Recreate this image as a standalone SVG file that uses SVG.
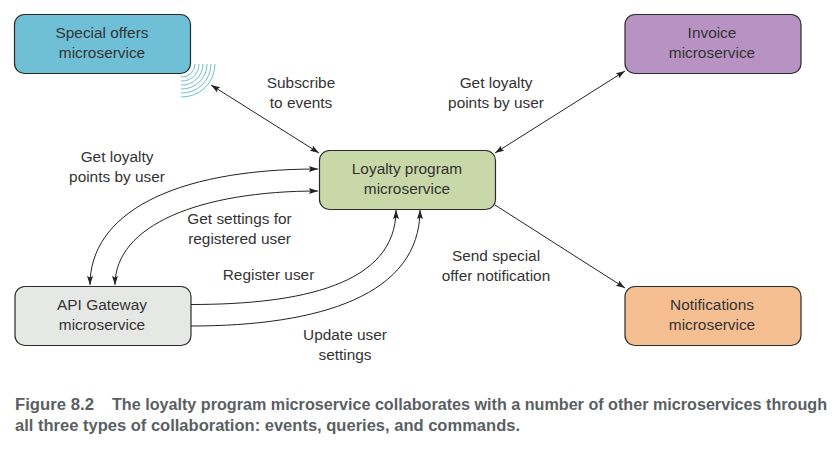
<svg xmlns="http://www.w3.org/2000/svg" width="840" height="450" viewBox="0 0 840 450">
<style>
text{font-family:"Liberation Sans",Arial,sans-serif;font-size:15.4px;fill:#333;text-anchor:middle}
.box{stroke:#2b2b2b;stroke-width:1.2}
.c{fill:none;stroke:#222;stroke-width:1}
.w{fill:none;stroke:#6cc0d5;stroke-width:1}
.cap{font-family:"Liberation Sans",sans-serif;font-weight:700;font-size:16px;fill:#5a5f63;text-anchor:start}
</style>
<defs>
<marker id="a" viewBox="0 0 9 6" refX="9" refY="3" markerWidth="9" markerHeight="6" markerUnits="userSpaceOnUse" orient="auto-start-reverse"><path d="M0 0L9 3L0 6L1.500 3Z" fill="#222"/></marker>
</defs>
<rect width="840" height="450" fill="#fff"/>
<g id="waves">
<path class="w" d="M181 77A13 13 0 0 0 195 64M181 81A17 17 0 0 0 199 64M181 85A21 21 0 0 0 203 64M181 89A25 25 0 0 0 207 64M181 93A29 29 0 0 0 211 64M181 97A33 33 0 0 0 215 64"/>
</g>
<g id="connectors">
<path class="c" marker-start="url(#a)" marker-end="url(#a)" d="M211 85L319 153"/>
<path class="c" marker-start="url(#a)" marker-end="url(#a)" d="M495 153L625 71"/>
<path class="c" marker-end="url(#a)" d="M495 205L625 288"/>
<path class="c" marker-start="url(#a)" marker-end="url(#a)" d="M90 285C90 215 170 169 318 169"/>
<path class="c" marker-start="url(#a)" marker-end="url(#a)" d="M115 285C115 225 200 191 318 191"/>
<path class="c" marker-end="url(#a)" d="M191 304.500C300 304.500 396 285 396 210"/>
<path class="c" marker-end="url(#a)" d="M191 326C320 326 420 295 420 210"/>
</g>
<g id="special"><rect class="box" x="14.500" y="14.500" width="176" height="59" rx="10" fill="#6fc0d6"/><text x="102" y="38">Special offers</text><text x="102" y="58">microservice</text></g>
<g id="invoice"><rect class="box" x="625" y="14.500" width="176" height="59" rx="10" fill="#b792c3"/><text x="712" y="38">Invoice</text><text x="712" y="58">microservice</text></g>
<g id="loyalty"><rect class="box" x="319.500" y="150.500" width="176" height="59" rx="10" fill="#c8d8a8"/><text x="407" y="174">Loyalty program</text><text x="407" y="194">microservice</text></g>
<g id="gateway"><rect class="box" x="15" y="286.500" width="176" height="59" rx="10" fill="#e6e8e6"/><text x="102" y="310">API Gateway</text><text x="102" y="330">microservice</text></g>
<g id="notifications"><rect class="box" x="625" y="286.500" width="176" height="59" rx="10" fill="#f6bf92"/><text x="712" y="310">Notifications</text><text x="712" y="330">microservice</text></g>
<g id="labels">
<text x="301" y="88">Subscribe</text><text x="301" y="108">to events</text>
<text x="496" y="88">Get loyalty</text><text x="496" y="108">points by user</text>
<text x="117" y="162">Get loyalty</text><text x="117" y="182">points by user</text>
<text x="239.500" y="224">Get settings for</text><text x="239.500" y="244">registered user</text>
<text x="268.500" y="280">Register user</text>
<text x="345" y="340">Update user</text><text x="345" y="360">settings</text>
<text x="496" y="261">Send special</text><text x="496" y="281">offer notification</text>
</g>
<g id="caption">
<text class="cap" x="15" y="410" textLength="79" lengthAdjust="spacingAndGlyphs">Figure 8.2</text>
<text class="cap" x="112" y="410" textLength="715" lengthAdjust="spacingAndGlyphs">The loyalty program microservice collaborates with a number of other microservices through</text>
<text class="cap" x="15" y="431" textLength="505" lengthAdjust="spacingAndGlyphs">all three types of collaboration: events, queries, and commands.</text>
</g>
</svg>
